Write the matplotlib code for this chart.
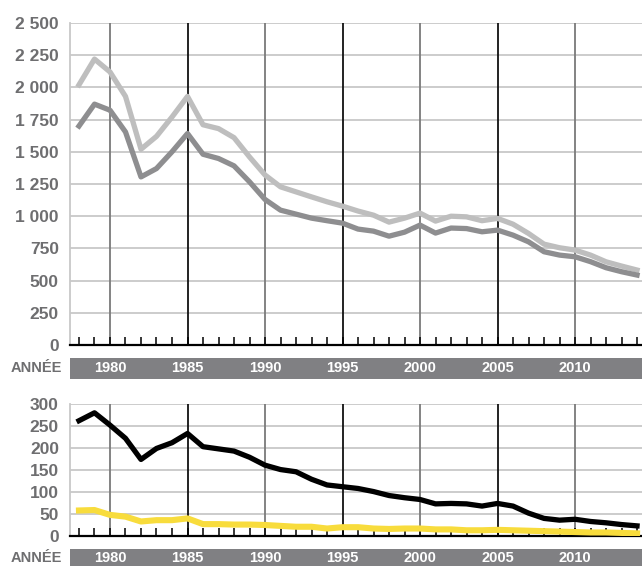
import numpy as np
import matplotlib.pyplot as plt

# data
years = list(range(1978, 2015))
light_top = [2020, 2220, 2120, 1930, 1520, 1620, 1770, 1930, 1710, 1680, 1610, 1460,
             1320, 1228, 1189, 1150, 1112, 1078, 1040, 1008, 954, 985, 1024, 962,
             1000, 995, 965, 983, 938, 866, 783, 755, 737, 698, 646, 613, 582]
dark_top = [1700, 1870, 1823, 1654, 1305, 1370, 1500, 1642, 1481, 1448, 1391, 1267,
            1130, 1047, 1016, 985, 965, 946, 900, 884, 845, 876, 931, 869,
            908, 904, 879, 892, 853, 801, 724, 698, 685, 647, 600, 569, 543]
black_bot = [262, 280, 252, 222, 174, 199, 212, 233, 203, 198, 193, 179,
             161, 151, 146, 129, 116, 112, 108, 101, 92, 87, 83, 73,
             74, 73, 68, 74, 68, 52, 40, 36, 38, 33, 30, 26, 23]
yellow_bot = [58, 59, 48, 44, 33, 36, 36, 40, 27, 27, 26, 26,
              25, 23, 21, 21, 17, 20, 20, 17, 16, 17, 17, 15,
              15, 13, 13, 14, 13, 12, 11, 10, 9, 8, 8, 7, 6]

top_ticks = [0, 250, 500, 750, 1000, 1250, 1500, 1750, 2000, 2250, 2500]
top_labels = ["0", "250", "500", "750", "1 000", "1 250", "1 500", "1 750",
              "2 000", "2 250", "2 500"]
bot_ticks = [0, 50, 100, 150, 200, 250, 300]
year_labels = [1980, 1985, 1990, 1995, 2000, 2005, 2010]

W, H = 642, 566
plt.rcParams['font.family'] = ['Liberation Sans', 'DejaVu Sans']
fig = plt.figure(figsize=(W / 100, H / 100), dpi=100)

XMIN, XMAX = 1977.42, 2014.32
LABEL_GRAY = '#6e6e70'
BAND_GRAY = '#808083'


def px_box(x0, y0, x1, y1):
    return [x0 / W, 1 - y1 / H, (x1 - x0) / W, (y1 - y0) / H]


def style_axes(ax, ymax, ticks, labels):
    ax.set_xlim(XMIN, XMAX)
    ax.set_ylim(0, ymax)
    for t in ticks[1:]:
        ax.axhline(t, color='#c8c8c8', lw=1.3, zorder=1)
    for i, yr in enumerate(year_labels):
        c = '#7a7a7a' if i % 2 == 0 else '#111111'
        ax.axvline(yr, color=c, lw=1.3, zorder=1)
    for s in ['top', 'right']:
        ax.spines[s].set_visible(False)
    ax.spines['left'].set_color('#c8c8c8')
    ax.spines['left'].set_linewidth(1.3)
    ax.spines['bottom'].set_color('black')
    ax.spines['bottom'].set_linewidth(1.6)
    ax.set_yticks(ticks)
    ax.set_yticklabels(labels, fontsize=12.5, fontweight='bold', color=LABEL_GRAY)
    ax.tick_params(axis='y', length=0, pad=8)
    ax.set_xticks(years)
    ax.set_xticklabels([])
    ax.tick_params(axis='x', direction='in', length=5.5, width=1.1, color='black')


def band(y0, y1, label_y):
    bx = fig.add_axes(px_box(70, y0, W, y1))
    bx.set_xlim(XMIN, XMAX)
    bx.set_ylim(0, 1)
    bx.set_facecolor(BAND_GRAY)
    bx.set_xticks([])
    bx.set_yticks([])
    for s in bx.spines.values():
        s.set_visible(False)
    for yr in year_labels:
        bx.text(yr, label_y, str(yr), ha='center', va='center', color='white',
                fontsize=10.5, fontweight='bold')
    fig.text(62 / W, 1 - (y0 + (y1 - y0) * (1 - label_y)) / H, 'ANNÉE',
             ha='right', va='center', color=LABEL_GRAY, fontsize=10.5,
             fontweight='bold')


# top chart
ax1 = fig.add_axes(px_box(70, 23, W, 345))
style_axes(ax1, 2500, top_ticks, top_labels)
ax1.plot(years, light_top, color='#bebebe', lw=3.8, zorder=3, solid_joinstyle='round')
ax1.plot(years, dark_top, color='#8e8e90', lw=3.8, zorder=4, solid_joinstyle='round')
band(358, 379, 0.5)

# bottom chart
ax2 = fig.add_axes(px_box(70, 404, W, 536))
style_axes(ax2, 300, bot_ticks, [str(t) for t in bot_ticks])
ax2.plot(years, black_bot, color='black', lw=3.8, zorder=4, solid_joinstyle='round')
ax2.plot(years, yellow_bot, color='#f8dc3c', lw=4.4, zorder=3, solid_joinstyle='round')
band(549, 566, 0.45)

fig.savefig('out.png', dpi=100)
